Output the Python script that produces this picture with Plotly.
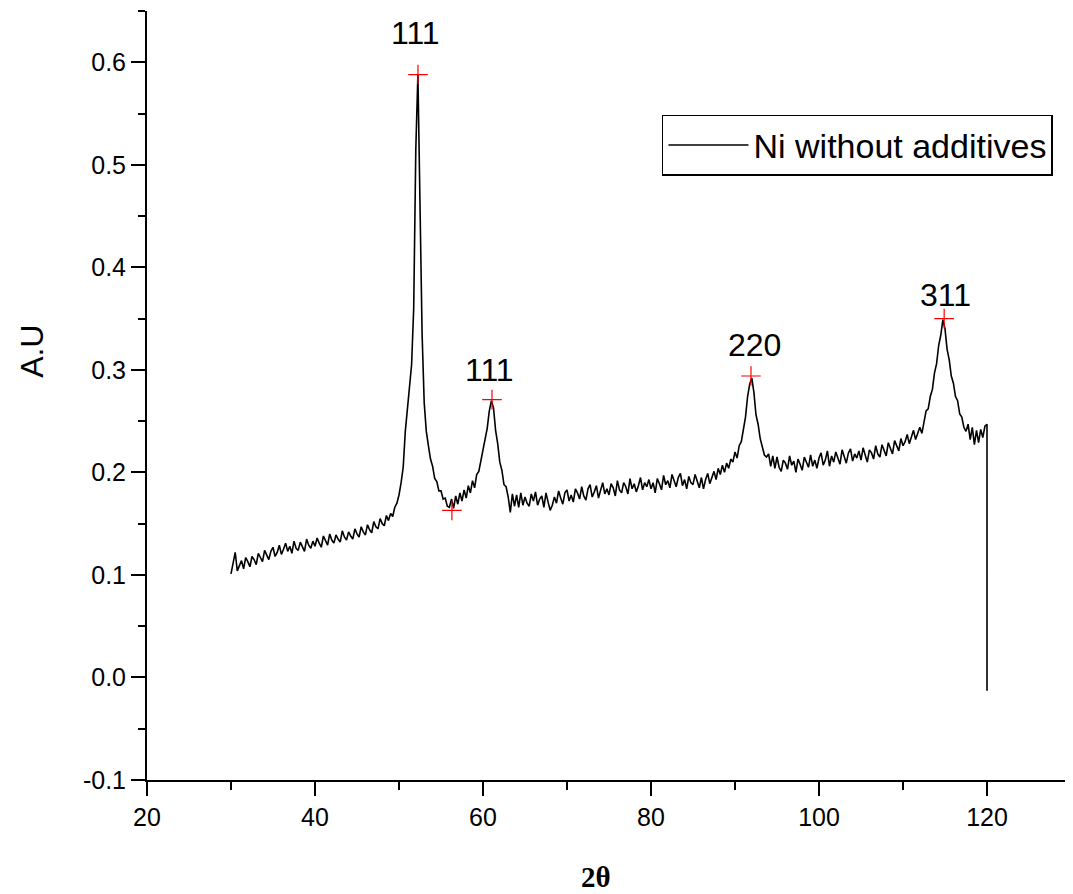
import plotly.graph_objects as go

# ---- data ----
scan_start = 30.0
scan_step = 0.25

intensity = [
    # 30.00 - 34.75
    0.101, 0.112, 0.122, 0.104, 0.109, 0.114, 0.106, 0.117, 0.113, 0.108,
    0.118, 0.115, 0.110, 0.121, 0.117, 0.113, 0.124, 0.119, 0.115, 0.123,
    # 35.00 - 39.75
    0.127, 0.118, 0.122, 0.129, 0.120, 0.125, 0.131, 0.123, 0.128, 0.121,
    0.133, 0.126, 0.124, 0.132, 0.127, 0.123, 0.135, 0.129, 0.126, 0.133,
    # 40.00 - 44.75
    0.128, 0.136, 0.131, 0.127, 0.138, 0.133, 0.129, 0.140, 0.134, 0.131,
    0.139, 0.135, 0.132, 0.143, 0.137, 0.134, 0.142, 0.138, 0.135, 0.145,
    # 45.00 - 49.75
    0.140, 0.137, 0.147, 0.142, 0.139, 0.149, 0.144, 0.141, 0.152, 0.147,
    0.145, 0.155, 0.150, 0.148, 0.158, 0.153, 0.160, 0.157, 0.166, 0.170,
    # 50.00 - 54.75
    0.178, 0.190, 0.205, 0.240, 0.262, 0.285, 0.305, 0.360, 0.515, 0.588,
    0.445, 0.335, 0.268, 0.240, 0.226, 0.213, 0.206, 0.194, 0.191, 0.182,
    # 55.00 - 59.75
    0.182, 0.174, 0.175, 0.167, 0.166, 0.174, 0.165, 0.177, 0.169, 0.180,
    0.172, 0.183, 0.175, 0.187, 0.180, 0.192, 0.185, 0.198, 0.201, 0.212,
    # 60.00 - 64.75
    0.220, 0.234, 0.243, 0.260, 0.270, 0.263, 0.241, 0.228, 0.210, 0.202,
    0.188, 0.186, 0.176, 0.161, 0.179, 0.167, 0.178, 0.166, 0.180, 0.168,
    # 65.00 - 69.75
    0.176, 0.170, 0.167, 0.179, 0.172, 0.181, 0.168, 0.174, 0.177, 0.166,
    0.180, 0.171, 0.163, 0.168, 0.176, 0.170, 0.182, 0.175, 0.169, 0.180,
    # 70.00 - 74.75
    0.183, 0.172, 0.178, 0.171, 0.184, 0.180, 0.174, 0.186, 0.177, 0.173,
    0.184, 0.188, 0.176, 0.181, 0.187, 0.175, 0.183, 0.190, 0.179, 0.184,
    # 75.00 - 79.75
    0.178, 0.189, 0.185, 0.177, 0.192, 0.183, 0.180, 0.190, 0.186, 0.179,
    0.194, 0.184, 0.189, 0.181, 0.187, 0.195, 0.183, 0.190, 0.186, 0.193,
    # 80.00 - 84.75
    0.184, 0.190, 0.180, 0.194, 0.189, 0.183, 0.197, 0.188, 0.192, 0.185,
    0.198, 0.191, 0.186, 0.195, 0.199, 0.187, 0.193, 0.184, 0.196, 0.190,
    # 85.00 - 89.75
    0.188, 0.198, 0.192, 0.185, 0.195, 0.184, 0.193, 0.199, 0.189, 0.196,
    0.201, 0.193, 0.204, 0.198, 0.207, 0.200, 0.209, 0.204, 0.213, 0.210,
    # 90.00 - 94.75
    0.220, 0.214, 0.226, 0.230, 0.242, 0.254, 0.274, 0.286, 0.292, 0.278,
    0.256, 0.247, 0.233, 0.226, 0.217, 0.215, 0.218, 0.206, 0.216, 0.204,
    # 95.00 - 99.75
    0.215, 0.205, 0.201, 0.212, 0.209, 0.203, 0.216, 0.207, 0.211, 0.200,
    0.213, 0.208, 0.202, 0.215, 0.210, 0.205, 0.217, 0.206, 0.212, 0.204,
    # 100.00 - 104.75
    0.214, 0.219, 0.207, 0.212, 0.221, 0.206, 0.216, 0.210, 0.220, 0.213,
    0.208, 0.222, 0.215, 0.209, 0.219, 0.223, 0.211, 0.218, 0.214, 0.221,
    # 105.00 - 109.75
    0.212, 0.224, 0.217, 0.210, 0.222, 0.219, 0.213, 0.226, 0.218, 0.215,
    0.227, 0.221, 0.216, 0.229, 0.224, 0.218, 0.231, 0.225, 0.221, 0.233,
    # 110.00 - 114.75
    0.226, 0.230, 0.237, 0.228, 0.235, 0.241, 0.232, 0.239, 0.244, 0.238,
    0.248, 0.260, 0.262, 0.274, 0.281, 0.297, 0.306, 0.324, 0.334, 0.349,
    # 115.00 - 119.75
    0.340, 0.320, 0.310, 0.294, 0.287, 0.274, 0.270, 0.257, 0.254, 0.244,
    0.240, 0.247, 0.232, 0.244, 0.227, 0.241, 0.229, 0.242, 0.234, 0.245,
    # 120.00
    0.247,
]
end_x = 120.0
end_y = -0.013

peak_x = [52.26, 56.3, 61.07, 91.9, 114.9]
peak_y = [0.588, 0.163, 0.271, 0.294, 0.350]

label_text = ["111", "111", "220", "311"]
label_x = [52.0, 60.8, 92.3, 115.0]
label_y = [0.629, 0.300, 0.3244, 0.373]

y_tickvals = [-0.1, 0.0, 0.1, 0.2, 0.3, 0.4, 0.5, 0.6]
y_ticktext = ["-0.1", "0.0", "0.1", "0.2", "0.3", "0.4", "0.5", "0.6"]
x_tickvals = [20, 40, 60, 80, 100, 120]
x_ticktext = ["20", "40", "60", "80", "100", "120"]

series_name = "Ni without additives"

# ---- build ----
two_theta = [round(scan_start + scan_step * i, 2) for i in range(len(intensity))]
xs = two_theta + [end_x]
ys = intensity + [end_y]

FONT = "Liberation Sans, Arial, sans-serif"

fig = go.Figure()
fig.add_trace(go.Scatter(
    x=xs, y=ys, mode="lines", name=series_name,
    line=dict(color="black", width=1.6),
))
fig.add_trace(go.Scatter(
    x=peak_x, y=peak_y, mode="markers", showlegend=False,
    marker=dict(symbol="cross-thin", size=14, color="red",
                line=dict(color="red", width=1.2)),
))

for t, lx, ly in zip(label_text, label_x, label_y):
    fig.add_annotation(x=lx, y=ly, text=t, showarrow=False,
                       font=dict(family=FONT, size=32, color="black"),
                       xanchor="center", yanchor="middle")

fig.add_annotation(xref="paper", yref="paper", x=-0.1245, y=0.558,
                   text="A.U", textangle=-90, showarrow=False,
                   font=dict(family=FONT, size=32, color="black"),
                   xanchor="center", yanchor="middle")
fig.add_annotation(xref="paper", yref="paper", x=0.486, y=-0.126,
                   text="<b>2θ</b>", showarrow=False,
                   font=dict(family="Liberation Serif, Times New Roman, serif",
                             size=29, color="black"),
                   xanchor="center", yanchor="middle", borderpad=0)

axis_common = dict(
    showline=True, linecolor="black", linewidth=2, mirror=False,
    showgrid=False, zeroline=False,
    ticks="outside", ticklen=14, tickwidth=2, tickcolor="black",
    tickfont=dict(family=FONT, size=25, color="black"),
)

fig.update_xaxes(range=[20, 130], tickmode="array",
                 tickvals=x_tickvals, ticktext=x_ticktext,
                 minor=dict(ticks="outside", ticklen=8, tickwidth=2,
                            tickcolor="black", dtick=10, tick0=20, showgrid=False),
                 **axis_common)
fig.update_yaxes(range=[-0.1, 0.65], tickmode="array",
                 tickvals=y_tickvals, ticktext=y_ticktext,
                 minor=dict(ticks="outside", ticklen=7, tickwidth=2,
                            tickcolor="black", dtick=0.05, tick0=-0.1, showgrid=False),
                 **axis_common)

# page body has an 8px margin, so the figure is sized/offset to compensate
fig.update_layout(
    width=1065, height=886,
    margin=dict(l=139, r=2, t=3, b=114),
    paper_bgcolor="white", plot_bgcolor="white",
    showlegend=True,
    legend=dict(x=0.9805, y=0.8648, xanchor="right", yanchor="top",
                bgcolor="white", bordercolor="black", borderwidth=1.5,
                font=dict(family=FONT, size=34, color="black"),
                itemwidth=80),
)

fig.write_html("out.html")
